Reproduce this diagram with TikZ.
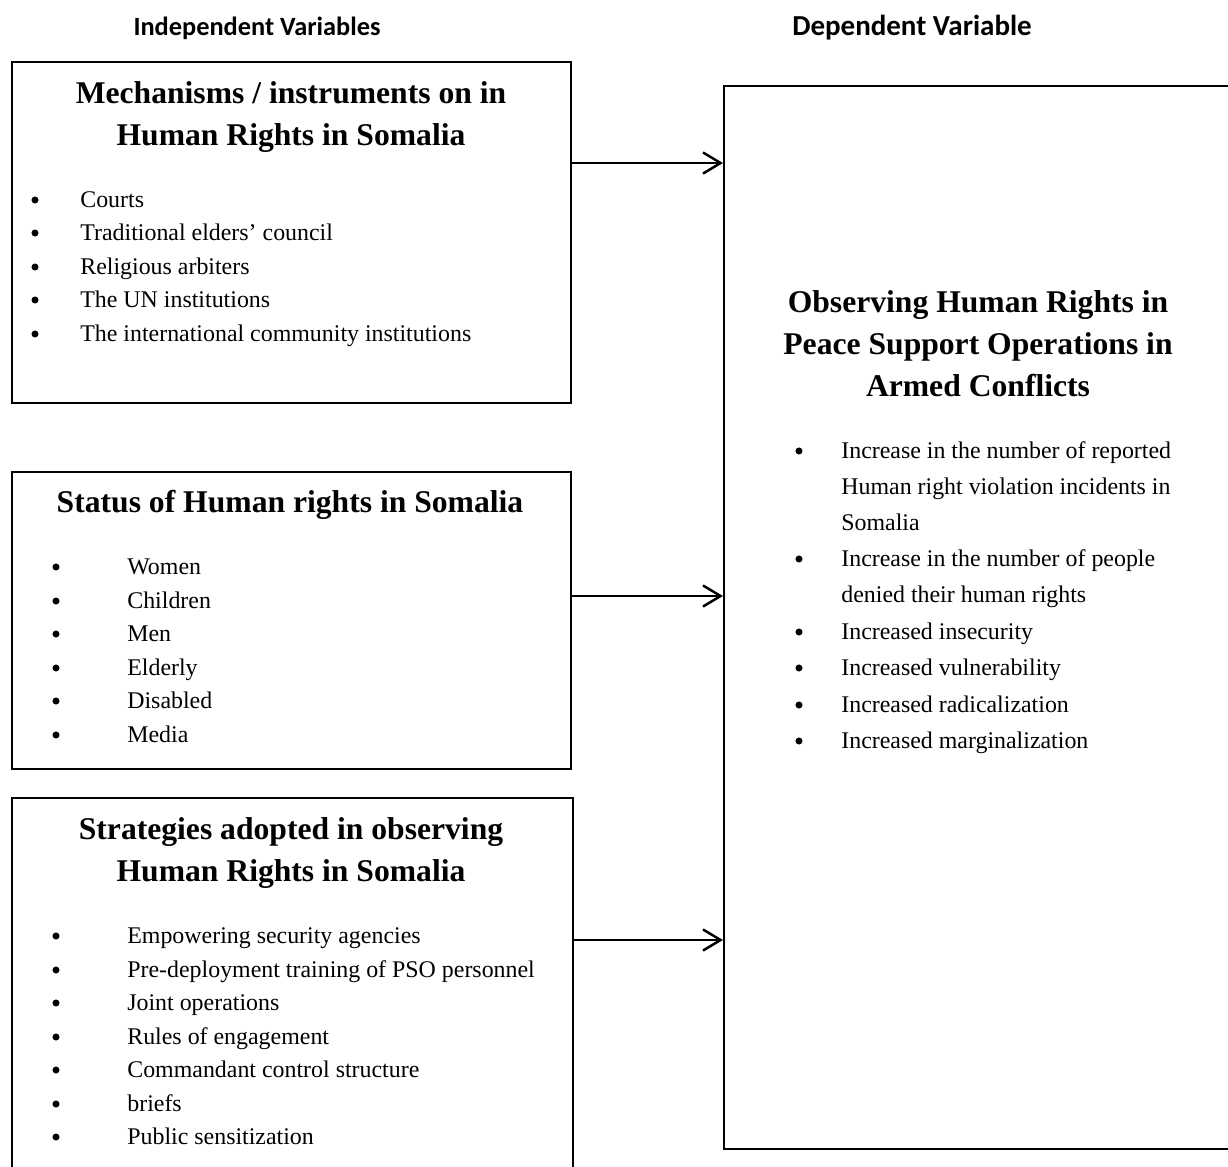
\documentclass[tikz,border=0pt]{standalone}
\usepackage{fontspec}
\setmainfont{Liberation Serif}
\newfontfamily\headfont{Carlito}
\usetikzlibrary{positioning,calc,arrows.meta}

\begin{document}
\begin{tikzpicture}[x=0.02cm, y=-0.02cm,
    box/.style={rectangle, draw, line width=1.4pt, anchor=north west, inner sep=0pt},
    heading/.style={font=\headfont\bfseries\fontsize{15}{17}\selectfont},
    title/.style={align=center, font=\bfseries\fontsize{18}{24}\selectfont},
    item/.style={anchor=west, inner sep=0pt, text height=11pt, text depth=2pt, font=\fontsize{13.6}{16}\selectfont},
    dot/.style={circle, fill, inner sep=0pt, minimum size=4pt},
    arr/.style={-{Straight Barb[length=10pt, width=12pt]}, line width=1.4pt}]
    \useasboundingbox (0,0) rectangle (1228,1167);

    \node[heading] (indep) at (257,28) {Independent Variables};
    \node[heading, font=\headfont\bfseries\fontsize{16.5}{18}\selectfont] (dep) at (912,28) {Dependent Variable};

    \node[box, minimum width=11.18cm, minimum height=6.82cm] (mech) at (11,61) {};
    \node[box, minimum width=11.18cm, minimum height=5.94cm] (status) at (11,471) {};
    \node[box, minimum width=11.22cm, minimum height=7.9cm] (strat) at (11,797) {};
    \node[box, minimum width=10.4cm, minimum height=21.26cm] (dv) at (723,85) {};

    \node[title] (mechtitle) at (291,117) {Mechanisms / instruments on in\\Human Rights in Somalia};
    \node[title] (statustitle) at (290,505) {Status of Human rights in Somalia};
    \node[title] (strattitle) at (291,853) {Strategies adopted in observing\\Human Rights in Somalia};
    \node[title] (dvtitle) at (978,344) {Observing Human Rights in\\Peace Support Operations in\\Armed Conflicts};

    \foreach \y/\txt [count=\i] in {200/Courts, 233/Traditional elders’ council, 267/Religious arbiters, 300/The UN institutions, 334/The international community institutions} {
        \node[dot] (mb\i) at (35,\y) {};
        \node[item] (m\i) at (80,\y) {\txt};
    }

    \foreach \y/\txt [count=\i] in {567/Women, 601/Children, 634/Men, 668/Elderly, 701/Disabled, 735/Media} {
        \node[dot] (sb\i) at (56,\y) {};
        \node[item] (s\i) at (127,\y) {\txt};
    }

    \foreach \y/\txt [count=\i] in {936/Empowering security agencies, 970/Pre-deployment training of PSO personnel, 1003/Joint operations, 1037/Rules of engagement, 1070/Commandant control structure, 1104/briefs, 1137/Public sensitization} {
        \node[dot] (tb\i) at (56,\y) {};
        \node[item] (t\i) at (127,\y) {\txt};
    }

    \foreach \y [count=\i] in {451, 559, 632, 668, 705, 741} {
        \node[dot] (db\i) at (799,\y) {};
    }
    \foreach \y/\txt [count=\i] in {451/Increase in the number of reported, 487/Human right violation incidents in, 523/Somalia, 559/Increase in the number of people, 595/denied their human rights, 632/Increased insecurity, 668/Increased vulnerability, 705/Increased radicalization, 741/Increased marginalization} {
        \node[item] (d\i) at (841,\y) {\txt};
    }

    \coordinate (a1) at (0,163);
    \coordinate (a2) at (0,596);
    \coordinate (a3) at (0,940);
    \draw[arr] (mech.east |- a1) -- (dv.west |- a1);
    \draw[arr] (status.east |- a2) -- (dv.west |- a2);
    \draw[arr] (strat.east |- a3) -- (dv.west |- a3);
\end{tikzpicture}
\end{document}
